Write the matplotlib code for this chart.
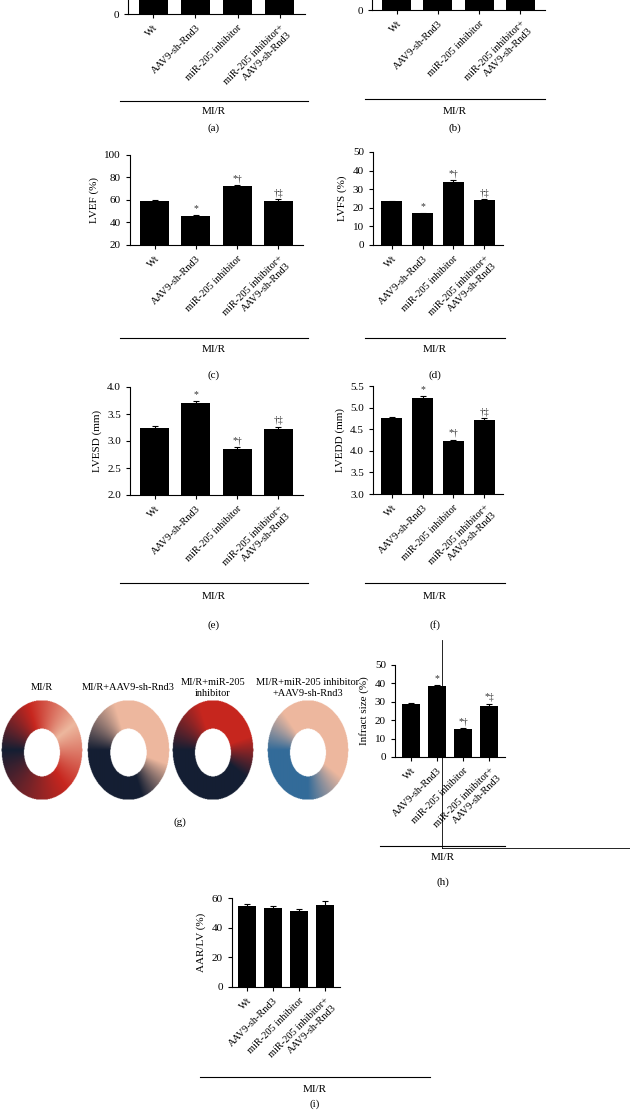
import numpy as np
import matplotlib
matplotlib.use("Agg")
import matplotlib.pyplot as plt
from matplotlib.lines import Line2D

plt.rcParams["font.family"] = "Liberation Serif"
plt.rcParams["font.size"] = 8

categories = ["Wt", "AAV9-sh-Rnd3", "miR-205 inhibitor", "miR-205 inhibitor+\nAAV9-sh-Rnd3"]
a_vals = [90, 90, 90, 90]; a_err = [0, 0, 0, 0]
b_vals = [90, 90, 90, 90]; b_err = [0, 0, 0, 0]
lvef = [59, 45.5, 72, 59.5]; lvef_err = [1.0, 1.3, 1.2, 1.5]
lvfs = [23.5, 17, 34, 24]; lvfs_err = [0.4, 0.4, 0.7, 0.8]
lvesd = [3.24, 3.70, 2.85, 3.22]; lvesd_err = [0.03, 0.04, 0.03, 0.04]
lvedd = [4.75, 5.22, 4.23, 4.72]; lvedd_err = [0.03, 0.05, 0.03, 0.03]
infarct = [29, 38.8, 15.3, 27.5]; infarct_err = [0.6, 0.3, 0.4, 1.5]
aar = [54.5, 53.5, 51.5, 55]; aar_err = [1.2, 1.2, 1.2, 3.2]
annots_c = ["", "*", "*†", "†‡"]
annots_h = ["", "*", "*†", "*‡"]
heart_titles = ["MI/R", "MI/R+AAV9-sh-Rnd3", "MI/R+miR-205\ninhibitor", "MI/R+miR-205 inhibitor\n+AAV9-sh-Rnd3"]

W, H = 630, 1110
fig = plt.figure(figsize=(6.3, 11.1), dpi=100)

def fx(x): return x / W
def fy(y): return 1 - y / H

def panel(x0, x1, ytop, ybot, vals, errs, ylim, yticks, ylabel, annots, label, line_y, mir_y, lab_y, lx0, lx1):
    ax = fig.add_axes([fx(x0), fy(ybot), fx(x1 - x0), (ybot - ytop) / H])
    x = np.arange(len(vals))
    ax.bar(x, [v - ylim[0] for v in vals], bottom=ylim[0], width=0.7, color="black",
           yerr=errs, capsize=2.5, error_kw=dict(elinewidth=0.8, capthick=0.8, ecolor="black"))
    ax.set_ylim(*ylim); ax.set_xlim(-0.6, len(vals) - 0.4)
    ax.set_yticks(yticks)
    ax.set_xticks(x)
    ax.set_xticklabels(categories, rotation=45, ha="right", rotation_mode="anchor", fontsize=7.5)
    ax.spines["top"].set_visible(False); ax.spines["right"].set_visible(False)
    ax.tick_params(length=3, width=0.8)
    if ylabel: ax.set_ylabel(ylabel)
    rng = ylim[1] - ylim[0]
    for i, a in enumerate(annots):
        if a:
            ax.text(i, vals[i] + errs[i] + rng * 0.02, a, ha="center", va="bottom", fontsize=7, color="#333")
    fig.add_artist(Line2D([fx(lx0), fx(lx1)], [fy(line_y)] * 2, color="black", lw=0.8))
    fig.text(fx((lx0 + lx1) / 2), fy(mir_y), "MI/R", ha="center", va="center")
    fig.text(fx((lx0 + lx1) / 2), fy(lab_y), label, ha="center", va="center")
    return ax

panel(128, 305, -200, 14, a_vals, a_err, (0, 100), [0], "", [""] * 4, "(a)", 101, 111, 128, 120, 308)
panel(372, 545, -200, 10, b_vals, b_err, (0, 100), [0], "", [""] * 4, "(b)", 99, 111, 128, 365, 545)
panel(130, 303, 155, 245, lvef, lvef_err, (20, 100), [20, 40, 60, 80, 100], "LVEF (%)", annots_c, "(c)", 338, 350, 375, 120, 308)
panel(373, 503, 152, 245, lvfs, lvfs_err, (0, 50), [0, 10, 20, 30, 40, 50], "LVFS (%)", annots_c, "(d)", 338, 350, 375, 365, 505)
panel(130, 303, 387, 495, lvesd, lvesd_err, (2.0, 4.0), [2.0, 2.5, 3.0, 3.5, 4.0], "LVESD (mm)", annots_c, "(e)", 583, 597, 625, 120, 308)
panel(373, 503, 386, 494, lvedd, lvedd_err, (3.0, 5.5), [3.0, 3.5, 4.0, 4.5, 5.0, 5.5], "LVEDD (mm)", annots_c, "(f)", 583, 597, 625, 365, 505)
panel(395, 505, 665, 757, infarct, infarct_err, (0, 50), [0, 10, 20, 30, 40, 50], "Infract size (%)", annots_h, "(h)", 846, 858, 882, 380, 505)
panel(232, 340, 898, 987, aar, aar_err, (0, 60), [0, 20, 40, 60], "AAR/LV (%)", ["", "", "", ""], "(i)", 1077, 1089, 1104, 200, 430)
fig.add_artist(Line2D([fx(442), fx(442)], [fy(640), fy(848)], color="black", lw=0.6))
fig.add_artist(Line2D([fx(442), fx(630)], [fy(848), fy(848)], color="black", lw=0.6))

navy = np.array([0.08, 0.12, 0.2]); red = np.array([0.78, 0.15, 0.12])
pale = np.array([0.93, 0.72, 0.62]); blue = np.array([0.2, 0.42, 0.6])
schemes = [
    [(0, navy), (0.35, red), (0.6, pale), (0.8, red), (1.0, navy)],
    [(0, navy), (0.3, navy), (0.45, pale), (0.8, pale), (1.0, navy)],
    [(0, navy), (0.4, navy), (0.55, red), (0.8, red), (1.0, navy)],
    [(0, blue), (0.25, blue), (0.4, pale), (0.85, pale), (1.0, blue)],
]
centers = [42, 128, 213, 308]
for k, cx in enumerate(centers):
    axi = fig.add_axes([fx(cx - 45), fy(800), fx(90), 100 / H])
    n = 200
    yy, xx = np.mgrid[-1:1:n * 1j, -1:1:n * 1j]
    r = np.sqrt((xx / 0.9) ** 2 + (yy / 1.0) ** 2)
    rh = np.sqrt((xx / 0.4) ** 2 + ((yy + 0.05) / 0.48) ** 2)
    ang = (np.arctan2(yy, xx) + np.pi) / (2 * np.pi)
    img = np.ones((n, n, 4))
    stops = schemes[k]
    for c in range(3):
        img[..., c] = np.interp(ang, [s[0] for s in stops], [s[1][c] for s in stops])
    img[..., 3] = ((r <= 1) & (rh >= 1)).astype(float)
    axi.imshow(img, origin="lower", aspect="auto")
    axi.axis("off")
    fig.text(fx(cx), fy(688), heart_titles[k], ha="center", va="center", fontsize=7.5)
fig.text(fx(180), fy(822), "(g)", ha="center", va="center")

fig.savefig("out.png", dpi=100)
